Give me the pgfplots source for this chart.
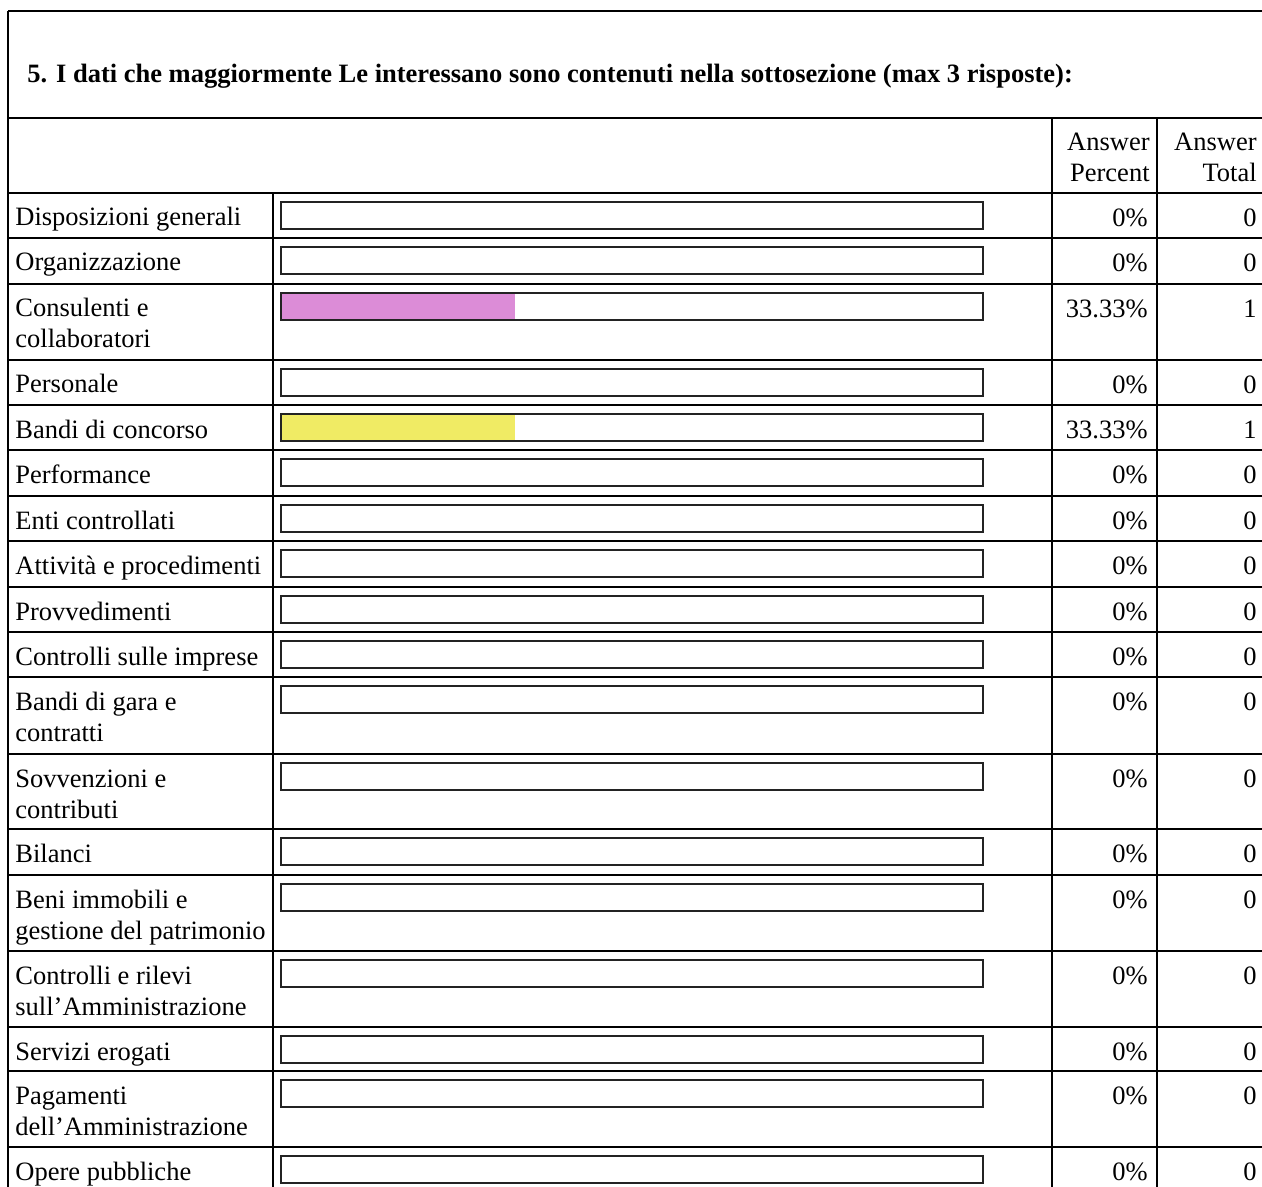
\documentclass[border=0pt]{standalone}
\usepackage{fontspec}
\setmainfont{Liberation Serif}
\usepackage{pgfplots}
\pgfplotsset{compat=1.18}
\definecolor{pinkbar}{RGB}{220,140,215}
\definecolor{yellowbar}{RGB}{240,235,100}
\definecolor{framec}{RGB}{35,35,35}
\begin{document}
\fontsize{13.25pt}{15.5pt}\selectfont
\begin{tikzpicture}[font=\fontsize{13.25pt}{15.5pt}\selectfont]
\begin{axis}[at={(0pt,0pt)}, anchor=north west, scale only axis,
  width=631pt, height=593.5pt,
  xmin=-40.0285, xmax=139.744, ymin=0, ymax=1187, y dir=reverse,
  axis lines=none, clip=false,
  /pgf/number format/assume math mode=true]
% empty bar frames (100%)
\addplot[xbar, bar shift=0pt, bar width=13.6pt, fill=white, draw=none]
 coordinates {(100,215.5) (100,260.5) (100,306.5) (100,382.5) (100,427.5) (100,472.5)
 (100,518.5) (100,563.5) (100,609.5) (100,654.5) (100,699.5) (100,776.5) (100,851.5)
 (100,897.5) (100,973.5) (100,1049.5) (100,1093.5) (100,1169.5)};
% answer percent bars
\addplot[xbar, bar shift=0pt, bar width=13.6pt, fill=pinkbar, draw=none]
 coordinates {(33.33,306.5)};
\addplot[xbar, bar shift=0pt, bar width=13.6pt, fill=yellowbar, draw=none]
 coordinates {(33.33,427.5)};
% frame outlines
\addplot[xbar, bar shift=0pt, bar width=13.6pt, fill=none, draw=framec, line width=0.9pt]
 coordinates {(100,215.5) (100,260.5) (100,306.5) (100,382.5) (100,427.5) (100,472.5)
 (100,518.5) (100,563.5) (100,609.5) (100,654.5) (100,699.5) (100,776.5) (100,851.5)
 (100,897.5) (100,973.5) (100,1049.5) (100,1093.5) (100,1169.5)};
% Answer Percent
\addplot[only marks, mark=*, mark size=0pt, mark options={draw=none,fill=none},
  point meta=explicit,
  nodes near coords={\pgfmathprintnumber{\pgfplotspointmeta}\%},
  every node near coord/.append style={anchor=base east, inner sep=0pt, text=black}]
 coordinates {(123.5,226) [0] (123.5,271) [0] (123.5,317) [33.33] (123.5,393) [0]
 (123.5,438) [33.33] (123.5,483) [0] (123.5,529) [0] (123.5,574) [0] (123.5,620) [0]
 (123.5,665) [0] (123.5,710) [0] (123.5,787) [0] (123.5,862) [0] (123.5,908) [0]
 (123.5,984) [0] (123.5,1060) [0] (123.5,1104) [0] (123.5,1180) [0]};
% Answer Total
\addplot[only marks, mark=*, mark size=0pt, mark options={draw=none,fill=none},
  point meta=explicit,
  nodes near coords={\pgfmathprintnumber{\pgfplotspointmeta}},
  every node near coord/.append style={anchor=base east, inner sep=0pt, text=black}]
 coordinates {(139.03,226) [0] (139.03,271) [0] (139.03,317) [1] (139.03,393) [0]
 (139.03,438) [1] (139.03,483) [0] (139.03,529) [0] (139.03,574) [0] (139.03,620) [0]
 (139.03,665) [0] (139.03,710) [0] (139.03,787) [0] (139.03,862) [0] (139.03,908) [0]
 (139.03,984) [0] (139.03,1060) [0] (139.03,1104) [0] (139.03,1180) [0]};
\end{axis}
\begin{scope}[x=0.5pt,y=-0.5pt]
% outer frame
\draw[line width=1.2pt] (8,11) -- (1262,11);
\draw[line width=1.2pt] (8,11) -- (8,1187);
\draw[line width=0.9pt] (8,118) -- (1262,118);
\draw[line width=0.9pt] (8,193) -- (1262,193);
% row separators
\foreach \yy in {238,284,360,405,450,496,541,587,632,677,754,829,875,951,1027,1071,1147}
  \draw[line width=0.8pt] (8,\yy) -- (1262,\yy);
% vertical column lines
\draw[line width=0.9pt] (273,193) -- (273,1187);
\draw[line width=0.9pt] (1052,118) -- (1052,1187);
\draw[line width=0.9pt] (1157,118) -- (1157,1187);
% title
\node[anchor=base west, inner sep=0pt, font=\fontsize{13.25pt}{15.5pt}\selectfont\bfseries] at (27,83)
  {5. I dati che maggiormente Le interessano sono contenuti nella sottosezione (max 3 risposte):};
% header
\node[anchor=base east, inner sep=0pt] at (1150,151) {Answer};
\node[anchor=base east, inner sep=0pt] at (1150,182) {Percent};
\node[anchor=base east, inner sep=0pt] at (1257,151) {Answer};
\node[anchor=base east, inner sep=0pt] at (1257,182) {Total};
% row labels
\foreach \yy/\txt in {226/Disposizioni generali, 271/Organizzazione, 317/Consulenti e,
  348/collaboratori, 393/Personale, 438/Bandi di concorso, 483/Performance,
  529/Enti controllati, 574/Attività e procedimenti, 620/Provvedimenti,
  665/Controlli sulle imprese, 710/Bandi di gara e, 741/contratti, 787/Sovvenzioni e,
  818/contributi, 862/Bilanci, 908/Beni immobili e, 939/gestione del patrimonio,
  984/Controlli e rilevi, 1015/sull’Amministrazione, 1060/Servizi erogati,
  1104/Pagamenti, 1135/dell’Amministrazione, 1180/Opere pubbliche}
  \node[anchor=base west, inner sep=0pt] at (15,\yy) {\txt};
\end{scope}
\pgfresetboundingbox
\path[use as bounding box] (0pt,0pt) rectangle (631pt,-593.5pt);
\end{tikzpicture}
\end{document}
